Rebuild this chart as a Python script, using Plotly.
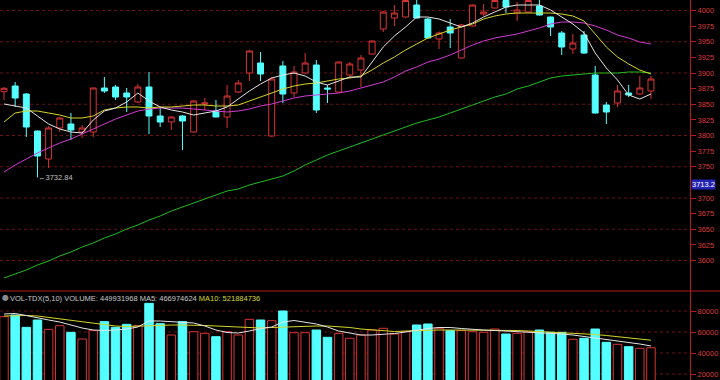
import plotly.graph_objects as go

# ---------------- data ----------------
opens = [3870.1, 3879.2, 3866.4, 3807.2, 3762.4, 3812.0, 3818.4, 3805.6, 3805.6, 3876.0,
         3877.6, 3868.0, 3853.6, 3877.6, 3831.2, 3821.6, 3831.2, 3805.6, 3850.4, 3839.2,
         3829.6, 3869.6, 3900.0, 3916.0, 3799.2, 3911.2, 3868.0, 3900.0, 3912.8, 3876.0,
         3869.6, 3896.8, 3904.8, 3930.4, 3970.4, 3988.0, 3989.6, 4008.8, 3986.4, 3954.4,
         3973.6, 3924.0, 3975.2, 3994.4, 4004.0, 4016.0, 3996.0, 3997.6, 4007.2, 3989.6,
         3964.0, 3938.4, 3960.8, 3896.8, 3848.8, 3852.0, 3868.0, 3866.4, 3871.2]
highs = [3877.6, 3885.6, 3868.0, 3808.0, 3815.2, 3829.6, 3836.0, 3816.8, 3876.8, 3893.6,
         3880.8, 3876.0, 3882.4, 3901.6, 3844.0, 3830.4, 3832.8, 3856.8, 3860.0, 3856.8,
         3880.8, 3888.8, 3936.8, 3933.6, 3893.6, 3919.2, 3911.2, 3932.0, 3920.8, 3880.8,
         3918.4, 3917.6, 3928.8, 3952.0, 3999.2, 4008.8, 4016.8, 4016.8, 3988.0, 3966.4,
         3986.4, 3978.4, 4009.6, 4010.4, 4016.8, 4016.8, 4013.6, 4016.8, 4016.8, 3990.4,
         3967.2, 3962.4, 3967.2, 3911.2, 3853.6, 3880.8, 3880.8, 3895.2, 3895.2]
lows = [3856.8, 3845.6, 3797.6, 3732.84, 3748.0, 3805.6, 3792.8, 3796.0, 3797.6, 3868.0,
        3856.8, 3837.6, 3852.0, 3802.4, 3813.6, 3808.8, 3776.8, 3804.8, 3840.8, 3829.0,
        3812.0, 3868.0, 3887.2, 3887.2, 3797.6, 3852.0, 3861.6, 3899.2, 3836.0, 3852.0,
        3868.8, 3892.0, 3877.6, 3929.6, 3965.6, 3975.2, 3988.8, 3987.2, 3955.2, 3938.4,
        3940.0, 3923.2, 3974.4, 3991.2, 4003.2, 3996.0, 3983.2, 3996.8, 3992.0, 3959.2,
        3928.8, 3930.4, 3930.4, 3835.2, 3818.4, 3845.6, 3861.6, 3865.6, 3858.4]
closes = [3875.5, 3860.0, 3813.6, 3767.2, 3812.0, 3828.0, 3808.8, 3812.0, 3876.0, 3871.2,
          3861.6, 3861.6, 3877.6, 3831.2, 3821.6, 3829.6, 3823.2, 3855.2, 3852.0, 3829.6,
          3863.2, 3884.0, 3935.2, 3898.4, 3890.4, 3866.4, 3901.6, 3916.0, 3840.8, 3874.4,
          3917.6, 3914.4, 3924.0, 3951.2, 3997.6, 3996.0, 4016.0, 3988.0, 3956.0, 3964.0,
          3964.0, 3976.8, 4008.8, 3997.6, 4016.0, 4005.6, 4000.8, 4016.0, 3992.8, 3973.6,
          3941.6, 3948.0, 3932.0, 3836.0, 3837.6, 3871.2, 3864.8, 3876.0, 3890.4]

ma5 = [3850.4, 3847.2, 3844.0, 3831.2, 3818.4, 3810.4, 3805.6, 3804.0, 3824.8, 3839.2,
       3844.0, 3853.6, 3868.0, 3855.2, 3845.6, 3840.8, 3837.6, 3832.8, 3836.0, 3839.2,
       3845.6, 3858.4, 3871.2, 3882.4, 3892.0, 3896.8, 3900.0, 3895.2, 3885.6, 3880.8,
       3887.2, 3893.6, 3893.6, 3917.6, 3941.6, 3959.2, 3973.6, 3989.6, 3989.6, 3986.4,
       3980.0, 3973.6, 3980.0, 3989.6, 3997.6, 4005.6, 4008.8, 4008.8, 4008.8, 4000.8,
       3989.6, 3978.4, 3964.0, 3932.0, 3908.0, 3888.8, 3864.8, 3858.4, 3866.4]
ma10 = [3821.6, 3836.0, 3839.2, 3839.2, 3836.0, 3832.8, 3828.0, 3828.0, 3831.2, 3840.8,
        3844.0, 3845.6, 3845.6, 3844.0, 3845.6, 3845.6, 3847.2, 3848.8, 3848.8, 3847.2,
        3847.2, 3848.8, 3855.2, 3861.6, 3868.0, 3874.4, 3879.2, 3882.4, 3884.0, 3887.2,
        3890.4, 3892.0, 3895.2, 3904.8, 3916.0, 3925.6, 3936.8, 3946.4, 3956.0, 3962.4,
        3968.8, 3973.6, 3978.4, 3986.4, 3991.2, 3994.4, 3996.0, 3996.0, 3996.0, 3996.0,
        3994.4, 3991.2, 3983.2, 3962.4, 3941.6, 3925.6, 3914.4, 3904.8, 3898.4]
ma20 = [3741.6, 3752.8, 3762.4, 3772.0, 3780.0, 3788.0, 3794.4, 3802.4, 3810.4, 3818.4,
        3826.4, 3832.8, 3839.2, 3842.4, 3844.0, 3844.0, 3844.0, 3842.4, 3840.8, 3839.2,
        3837.6, 3839.2, 3842.4, 3847.2, 3850.4, 3855.2, 3860.0, 3863.2, 3864.8, 3866.4,
        3868.0, 3871.2, 3876.0, 3880.8, 3885.6, 3893.6, 3903.2, 3909.6, 3917.6, 3922.4,
        3928.8, 3936.8, 3944.8, 3951.2, 3956.0, 3959.2, 3962.4, 3967.2, 3972.0, 3978.4,
        3981.6, 3981.6, 3980.0, 3975.2, 3968.8, 3960.8, 3956.0, 3949.6, 3946.4]
ma60 = [3572.0, 3578.4, 3584.8, 3592.8, 3599.2, 3607.2, 3613.6, 3621.6, 3628.0, 3636.0,
        3642.4, 3650.4, 3656.8, 3664.8, 3671.2, 3679.2, 3685.6, 3692.0, 3698.4, 3704.8,
        3711.2, 3714.4, 3720.8, 3725.6, 3730.4, 3735.2, 3743.2, 3752.8, 3760.8, 3768.8,
        3775.2, 3781.6, 3788.0, 3794.4, 3800.8, 3807.2, 3813.6, 3820.0, 3824.8, 3829.6,
        3836.0, 3842.4, 3848.8, 3855.2, 3861.6, 3866.4, 3874.4, 3879.2, 3885.6, 3892.0,
        3895.2, 3896.8, 3898.4, 3900.0, 3900.0, 3900.0, 3901.6, 3901.6, 3900.0]

volumes = [74570, 76190, 64450, 71430, 62540, 66000, 59700, 53330, 61270, 69840,
           64450, 67300, 66000, 87300, 67900, 57140, 69840, 60290, 58730, 55520,
           60290, 57140, 72100, 71430, 70760, 80000, 59330, 59330, 61900, 54950,
           58730, 54000, 57140, 61900, 63520, 58100, 60290, 66670, 67620, 63520,
           61270, 61270, 60290, 59710, 62860, 58100, 58760, 60290, 61900, 59710,
           59710, 53050, 54000, 62860, 50190, 48290, 46000, 44470, 44993]
vol_ma5 = [77140, 77620, 75710, 73330, 71430, 69520, 66670, 63810, 61900, 61430,
           61900, 62860, 64760, 70480, 70480, 70000, 69050, 68570, 65710, 61900,
           59520, 59050, 60950, 63330, 64760, 69520, 70950, 69520, 67620, 64760,
           60950, 59050, 57140, 57140, 57620, 58570, 60000, 61900, 63330, 64290,
           64290, 63330, 62380, 61900, 61430, 60950, 60480, 60000, 59520, 59050,
           58100, 57140, 55710, 54760, 53330, 51900, 50480, 48570, 46697]
vol_ma10 = [75240, 75710, 75710, 75240, 73810, 72380, 70950, 69520, 68100, 66670,
            65710, 65240, 65710, 66190, 66670, 66670, 66670, 66670, 66190, 65710,
            65240, 64290, 63810, 63810, 64290, 64760, 65240, 65240, 65710, 65710,
            65240, 64290, 62860, 61900, 60950, 60480, 60950, 61430, 61900, 61900,
            61900, 61900, 61900, 61900, 61900, 61430, 61430, 60950, 60480, 60000,
            59520, 59050, 58100, 57620, 56670, 55710, 54760, 53330, 52188]

# 3725 sits under the cursor value box in the reference, so it is not shown
price_ticks = [3600, 3625, 3650, 3675, 3700, 3750, 3775, 3800, 3825,
               3850, 3875, 3900, 3925, 3950, 3975, 4000]
price_grid = [3600, 3650, 3700, 3750, 3800, 3850, 3900, 3950, 4000]
vol_ticks = [20000, 40000, 60000, 80000]

low_label = "3732.84"
cursor_value = 3713.2
header_main = "VOL-TDX(5,10) VOLUME: 449931968 MA5: 466974624"
header_ma10 = "MA10: 521884736"

# ---------------- styling ----------------
UP = "#d83434"
DOWN = "#54ffff"
AXIS = "#b41e1e"
GRID = "#701212"
LABEL = "#d83c3c"
FONT = "Liberation Sans, Arial, sans-serif"
FS = 7.5

x = list(range(len(opens)))
split = 89 / 380  # fraction of height used by the volume panel

fig = go.Figure()

fig.add_trace(go.Candlestick(
    x=x, open=opens, high=highs, low=lows, close=closes,
    xaxis="x", yaxis="y",
    increasing=dict(line=dict(color=UP, width=1), fillcolor="#000000"),
    decreasing=dict(line=dict(color=DOWN, width=1), fillcolor=DOWN),
    whiskerwidth=0, showlegend=False, hoverinfo="skip"))

for vals, col in [(ma60, "#1fbf1f"), (ma20, "#d23cd2"), (ma10, "#d6d62a"), (ma5, "#e4e4e4")]:
    fig.add_trace(go.Scatter(x=x, y=vals, mode="lines", line=dict(color=col, width=1),
                             xaxis="x", yaxis="y", showlegend=False, hoverinfo="skip"))

up = [c >= o for o, c in zip(opens, closes)]
fig.add_trace(go.Bar(
    x=x, y=volumes, width=0.76, xaxis="x2", yaxis="y2",
    marker=dict(color=["#000000" if u else DOWN for u in up],
                line=dict(color=[UP if u else DOWN for u in up], width=1)),
    showlegend=False, hoverinfo="skip"))
for vals, col in [(vol_ma10, "#d6d62a"), (vol_ma5, "#e4e4e4")]:
    fig.add_trace(go.Scatter(x=x, y=vals, mode="lines", line=dict(color=col, width=1),
                             xaxis="x2", yaxis="y2", showlegend=False, hoverinfo="skip"))

shapes = []
for g in price_grid:
    shapes.append(dict(type="line", xref="paper", yref="y", x0=0, x1=1, y0=g, y1=g,
                       line=dict(color=GRID, width=1, dash="dot"), layer="below"))
for g in vol_ticks:
    shapes.append(dict(type="line", xref="paper", yref="y2", x0=0, x1=1, y0=g, y1=g,
                       line=dict(color=GRID, width=1, dash="dot"), layer="below"))
shapes.append(dict(type="line", xref="paper", yref="paper", x0=0, x1=720 / 690,
                   y0=split, y1=split, line=dict(color=AXIS, width=1)))

axis_common = dict(side="right", showgrid=False, zeroline=False, showline=True,
                   linecolor=AXIS, linewidth=1, ticks="outside", ticklen=5,
                   tickcolor=AXIS, tickformat="d",
                   tickfont=dict(color=LABEL, size=FS, family=FONT))

fig.update_layout(
    width=720, height=380,
    margin=dict(l=0, r=30, t=0, b=0),
    paper_bgcolor="#000000", plot_bgcolor="#000000",
    boxgap=0.24,
    xaxis=dict(domain=[0, 1], range=[-0.359, 61.5], visible=False, anchor="y",
               rangeslider=dict(visible=False), fixedrange=True),
    xaxis2=dict(domain=[0, 1], matches="x", visible=False, anchor="y2"),
    yaxis=dict(domain=[split, 1], range=[3551.2, 4016.8], tickvals=price_ticks,
               anchor="x", **axis_common),
    yaxis2=dict(domain=[0, split], range=[14286, 99048], tickvals=vol_ticks,
                anchor="x2", **axis_common),
    shapes=shapes,
    annotations=[
        dict(xref="paper", yref="paper", x=0, y=split, xanchor="left", yanchor="top",
             xshift=8, yshift=-1, showarrow=False,
             text=f"{header_main} <span style='color:#d8d82c'>{header_ma10}</span>",
             font=dict(color="#c8c8c8", size=FS, family=FONT)),
        dict(xref="paper", yref="paper", x=0, y=split, xanchor="left", yanchor="top",
             xshift=0, yshift=0, showarrow=False, text="●",
             font=dict(color="#8a8a8a", size=8, family="DejaVu Sans")),
        dict(xref="x", yref="y", x=3, y=3732.84, xanchor="left", yanchor="middle",
             xshift=-1, showarrow=False, text="←" + low_label,
             font=dict(color="#c0c0c0", size=FS, family=FONT)),
        dict(xref="paper", yref="y", x=1, y=cursor_value, xanchor="left", yanchor="middle",
             xshift=1, yshift=5, showarrow=False, text=f"{cursor_value}",
             bgcolor="#2424b4", borderpad=0,
             font=dict(color="#ffffff", size=FS, family=FONT)),
    ],
)

fig.write_html("out.html")
